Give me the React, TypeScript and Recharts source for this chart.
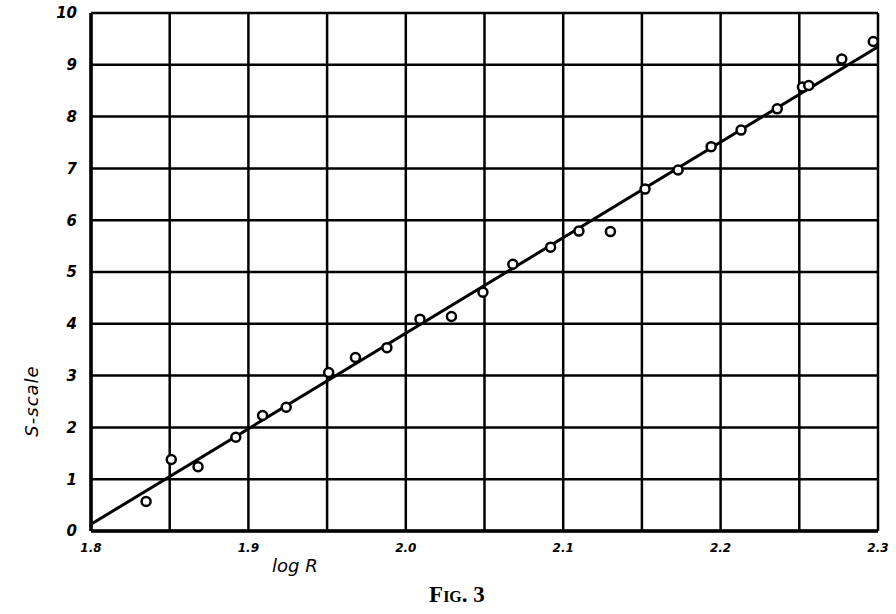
import React from 'react';
import { ScatterChart, Scatter, XAxis, YAxis, CartesianGrid, Label } from 'recharts';

// log R readings and their S-scale values
const logR = [1.835, 1.851, 1.868, 1.892, 1.909, 1.924, 1.951, 1.968, 1.988, 2.009, 2.029, 2.049, 2.068, 2.092, 2.110, 2.130, 2.152, 2.173, 2.194, 2.213, 2.236, 2.252, 2.256, 2.277, 2.297];
const sScale = [0.57, 1.38, 1.24, 1.81, 2.23, 2.39, 3.06, 3.35, 3.54, 4.09, 4.14, 4.61, 5.15, 5.48, 5.79, 5.78, 6.60, 6.97, 7.42, 7.74, 8.15, 8.57, 8.60, 9.11, 9.45];

// fitted straight line, end points
const fitX = [1.8, 2.3];
const fitY = [0.13, 9.35];

const xTicks = [1.8, 1.85, 1.9, 1.95, 2.0, 2.05, 2.1, 2.15, 2.2, 2.25, 2.3];
const yTicks = [0, 1, 2, 3, 4, 5, 6, 7, 8, 9, 10];

const points = logR.map((x, i) => ({ x, y: sScale[i] }));
const fitLine = fitX.map((x, i) => ({ x, y: fitY[i] }));

const handFont = '"DejaVu Sans", sans-serif';

const OpenCircle = (props: any) => {
  const { cx, cy } = props;
  return <circle cx={cx} cy={cy} r={4.5} fill="#fff" stroke="#000" strokeWidth={2.5} />;
};

const xTickLabel = (v: number) => (Math.round(v * 100) % 10 === 0 ? v.toFixed(1) : '');

const App: React.FC = () => {
  return (
    <div style={{ position: 'absolute', left: 0, top: 0, width: 896, height: 614, background: '#fff' }}>
      <ScatterChart width={896} height={614} margin={{ top: 13, right: 18, bottom: 53, left: 51 }}>
        <CartesianGrid stroke="#000" strokeWidth={2.5} />
        <XAxis
          type="number"
          dataKey="x"
          domain={[1.8, 2.3]}
          ticks={xTicks}
          interval={0}
          tickFormatter={xTickLabel}
          height={30}
          tickLine={false}
          axisLine={{ stroke: '#000', strokeWidth: 3.5 }}
          tick={{ fill: '#000', fontSize: 12, fontStyle: 'italic', fontWeight: 'bold', fontFamily: handFont }}
          tickMargin={6}
          allowDataOverflow
        >
          <Label
            content={(p: any) => {
              const vb = p.viewBox;
              return (
                <text x={vb.x + vb.width * 0.259} y={vb.y + 41} textAnchor="middle" fontFamily={handFont} fontStyle="italic" fontSize={18} fill="#000">
                  log R
                </text>
              );
            }}
          />
          <Label
            content={(p: any) => {
              const vb = p.viewBox;
              return (
                <text x={vb.x + vb.width * 0.465} y={vb.y + 71} textAnchor="middle" fontFamily='"Liberation Serif", serif' fontWeight="bold" fontSize={23} fill="#000" style={{ fontVariant: 'small-caps' }}>
                  Fig. 3
                </text>
              );
            }}
          />
        </XAxis>
        <YAxis
          type="number"
          dataKey="y"
          domain={[0, 10]}
          ticks={yTicks}
          interval={0}
          width={40}
          tickLine={false}
          axisLine={{ stroke: '#000', strokeWidth: 3.5 }}
          tick={{ fill: '#000', fontSize: 15, fontStyle: 'italic', fontWeight: 'bold', fontFamily: handFont }}
          tickMargin={8}
          allowDataOverflow
        >
          <Label
            content={(p: any) => {
              const vb = p.viewBox;
              const cx = vb.x - 19;
              const cy = vb.y + vb.height * 0.749;
              return (
                <text x={cx} y={cy} transform={`rotate(-90 ${cx} ${cy})`} textAnchor="middle" dominantBaseline="central" fontFamily={handFont} fontStyle="italic" fontSize={18} letterSpacing={1} fill="#000">
                  S-scale
                </text>
              );
            }}
          />
        </YAxis>
        <Scatter
          data={fitLine}
          line={{ stroke: '#000', strokeWidth: 3 }}
          shape={() => <g />}
          isAnimationActive={false}
        />
        <Scatter data={points} shape={OpenCircle} isAnimationActive={false} />
      </ScatterChart>
    </div>
  );
};

export default App;
